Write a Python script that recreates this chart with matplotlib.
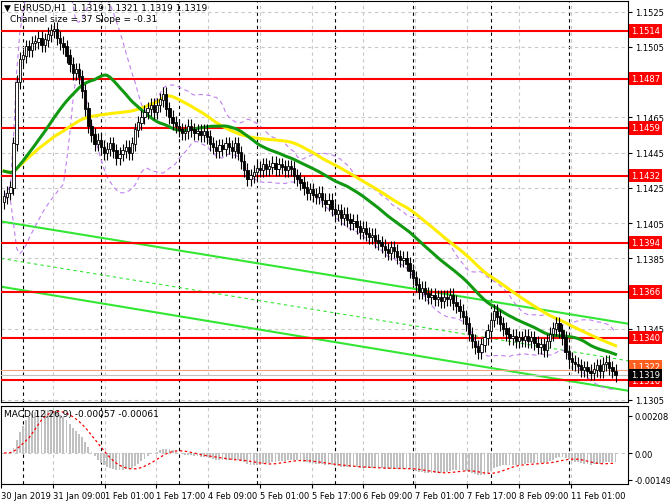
import numpy as np
import matplotlib.pyplot as plt

# 收盘价（相对 1.1300 的点数）
closes_pips = [120, 122, 125, 150, 185, 198, 200, 205, 203, 207,
               208, 210, 206, 209, 212, 214, 215, 210, 207, 205,
               200, 195, 190, 192, 188, 180, 170, 160, 155, 150,
               152, 148, 145, 147, 150, 146, 142, 144, 146, 148,
               145, 150, 158, 162, 165, 168, 170, 172, 168, 172,
               175, 178, 170, 165, 162, 160, 158, 156, 157, 160,
               158, 156, 157, 155, 157, 154, 150, 148, 146, 149,
               147, 150, 148, 146, 150, 145, 140, 135, 130, 132,
               134, 136, 135, 138, 136, 137, 139, 136, 138, 137,
               135, 137, 136, 132, 130, 128, 125, 122, 124, 121,
               120, 122, 118, 116, 118, 113, 110, 112, 108, 110,
               107, 105, 106, 103, 100, 102, 99, 97, 98, 95,
               94, 92, 90, 88, 91, 89, 86, 84, 85, 82,
               78, 74, 70, 66, 68, 65, 63, 64, 62, 63,
               61, 63, 62, 64, 60, 58, 55, 52, 48, 42,
               38, 35, 32, 36, 40, 44, 50, 55, 52, 48,
               45, 42, 40, 41, 38, 40, 39, 41, 38, 40,
               37, 35, 36, 33, 38, 42, 45, 48, 44, 40,
               32, 28, 26, 25, 24, 22, 23, 21, 20, 22,
               24, 21, 25, 26, 23, 21, 19]
levels = [1.1514, 1.1487, 1.1459, 1.1432, 1.1394, 1.1366, 1.1340, 1.1316]
price_ticks = [1.1525, 1.1505, 1.1465, 1.1445, 1.1425, 1.1405,
               1.1385, 1.1345, 1.1305]
time_labels = ['30 Jan 2019', '31 Jan 09:00', '1 Feb 01:00', '1 Feb 17:00',
               '4 Feb 09:00', '5 Feb 01:00', '5 Feb 17:00', '6 Feb 09:00',
               '7 Feb 01:00', '7 Feb 17:00', '8 Feb 09:00', '11 Feb 01:00']
# 通道线 (起点, 终点) 价格
channel_upper = (1.1406, 1.1348)
channel_mid = (1.1385, 1.1327)
channel_lower = (1.1369, 1.1310)

close = 1.13 + np.array(closes_pips) / 10000.0
n = len(close)
opens = np.r_[close[0] - 0.0003, close[:-1]]
highs = np.maximum(opens, close) + 0.0004
lows = np.minimum(opens, close) - 0.0004
idx = np.arange(n)


def sma(a, p):
    out = np.empty_like(a)
    for i in range(len(a)):
        out[i] = a[max(0, i - p + 1):i + 1].mean()
    return out


def ema(a, p):
    k = 2.0 / (p + 1)
    out = np.empty_like(a)
    out[0] = a[0]
    for i in range(1, len(a)):
        out[i] = a[i] * k + out[i - 1] * (1 - k)
    return out


seed = np.r_[np.full(30, 1.1435), close]
ma_green = sma(seed, 30)[30:]
ma_yellow = sma(seed, 50)[30:]
mid = sma(close, 20)
std = np.array([close[max(0, i - 19):i + 1].std() for i in range(n)])
macd = ema(close, 12) - ema(close, 26)
signal = sma(macd, 9)

W, H = 670, 502
fs = 6
fig = plt.figure(figsize=(6.7, 5.02), dpi=100)
x0, x1 = -1, n + 3
ax = fig.add_axes([1 / W, 1 - 403 / H, 627 / W, 401 / H])
ax2 = fig.add_axes([1 / W, 1 - 485 / H, 627 / W, 78 / H], sharex=ax)

tick_x = [-1 + 16.6 * k for k in range(len(time_labels))]
day_x = [6, 31, 56, 81, 106, 131, 156, 181]
for a in (ax, ax2):
    for tx in tick_x:
        a.axvline(tx, color='#c8c8c8', ls=(0, (3, 3)), lw=0.8, zorder=0)
    for dx in day_x:
        a.axvline(dx, color='black', ls=(0, (3, 3)), lw=0.8, zorder=0)
for pt in price_ticks:
    ax.axhline(pt, color='#c8c8c8', ls=(0, (3, 3)), lw=0.8, zorder=0)

# 通道
for a0, a1 in (channel_upper, channel_lower):
    ax.plot([x0, x1], [a0, a1], color='#33e633', lw=1.5, zorder=2)
ax.plot([x0, x1], list(channel_mid), color='#33e633', lw=0.8, ls=(0, (3, 3)), zorder=2)
ax.plot(idx, mid + 2 * std, color='#c080f0', lw=0.8, ls=(0, (4, 3)), zorder=2)
ax.plot(idx, mid - 2 * std, color='#c080f0', lw=0.8, ls=(0, (4, 3)), zorder=2)

for lv in levels:
    ax.axhline(lv, color='#ff0000', lw=1.5, zorder=3)

ax.plot(idx, ma_yellow, color='#ffee00', lw=2.2, zorder=4)
ax.plot(idx, ma_green, color='#119911', lw=2.2, zorder=4)

# K线
up = close >= opens
ax.vlines(idx, lows, highs, color='black', lw=0.8, zorder=5)
ax.bar(idx, np.abs(close - opens) + 0.00003, bottom=np.minimum(opens, close),
       width=0.75, color=np.where(up, 'white', 'black'), edgecolor='black', lw=0.6, zorder=6)
ax.axhline(close[-1], color='#c0c0c0', lw=0.8, zorder=3)
ax.axhline(1.1322, color='#f4a080', lw=0.8, zorder=3)

ax.set_xlim(x0, x1)
ax.set_ylim(1.13036, 1.1531)
ax.yaxis.tick_right()
ax.set_yticks(price_ticks)
ax.set_yticklabels([f'{p:.4f}' for p in price_ticks], fontsize=fs)
ax.tick_params(axis='y', length=3, pad=2)
ax.tick_params(axis='x', length=0, labelbottom=False)
for lv in levels:
    ax.text(1.005, lv, f'{lv:.4f}', transform=ax.get_yaxis_transform(), fontsize=fs,
            color='white', va='center', ha='left',
            bbox=dict(boxstyle='square,pad=0.25', fc='#ff0000', ec='none'))
ax.text(1.005, 1.1324, '1.1322', transform=ax.get_yaxis_transform(), fontsize=fs,
        color='white', va='center', bbox=dict(boxstyle='square,pad=0.2', fc='#ff6020', ec='none'))
ax.text(1.005, close[-1], f'{close[-1]:.4f}', transform=ax.get_yaxis_transform(), fontsize=fs,
        color='white', va='center', bbox=dict(boxstyle='square,pad=0.2', fc='black', ec='none'))
ax.text(0.005, 0.995, '▼ EURUSD,H1  1.1319 1.1321 1.1319 1.1319', transform=ax.transAxes,
        fontsize=6.5, va='top')
ax.text(0.015, 0.968, 'Channel size = 37 Slope = -0.31', transform=ax.transAxes,
        fontsize=6.5, va='top')

# MACD
ax2.bar(idx, macd, width=0.6, color='#c0c0c0', zorder=2)
ax2.plot(idx, signal, color='#ff0000', lw=0.9, ls=(0, (2, 2)), zorder=3)
ax2.axhline(0, color='#c8c8c8', ls=(0, (3, 3)), lw=0.8, zorder=0)
ax2.set_ylim(-0.00174, 0.00264)
ax2.yaxis.tick_right()
ax2.set_yticks([0.00208, 0.0, -0.00149])
ax2.set_yticklabels(['0.00208', '0.00', '-0.00149'], fontsize=fs)
ax2.tick_params(axis='y', length=3, pad=2)
ax2.set_xticks(tick_x)
ax2.set_xticklabels(time_labels, fontsize=fs, ha='left')
ax2.tick_params(axis='x', length=3, pad=2)
ax2.text(0.005, 0.96, 'MACD(12,26,9) -0.00057 -0.00061',
         transform=ax2.transAxes, fontsize=6.5, va='top')

fig.savefig('out.png', dpi=100)
